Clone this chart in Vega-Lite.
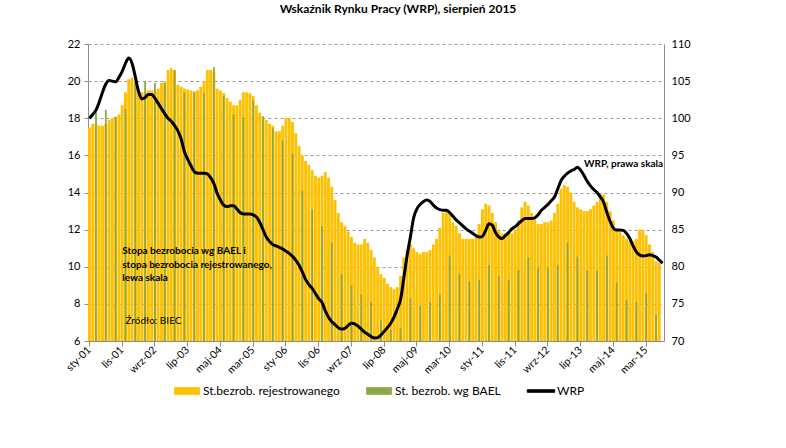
{
"$schema":"https://vega.github.io/schema/vega-lite/v6.json",
"width":576,"height":297,
"autosize":{"type":"none"},
"padding":{"left":88,"top":44,"right":122,"bottom":107},
"background":"white",
"title":{"text":"Wskaźnik Rynku Pracy (WRP), sierpień 2015","font":"Lato","fontSize":12,"fontWeight":"bold","color":"#000","anchor":"middle","dx":22,"offset":22},
"config":{"view":{"stroke":null},"font":"Lato","axis":{"labelFont":"Lato","labelColor":"#000"},"legend":{"labelFont":"Lato"},
 "axisLeft":{"labelOverlap":false}},
"data":{"values":[
{"d":"2001-01","reg":17.5,"wrp":100.0},{"d":"2001-02","reg":17.7,"wrp":100.5},{"d":"2001-03","reg":17.7,"bael":18.35,"wrp":101.1},{"d":"2001-04","reg":17.6,"wrp":102.2},{"d":"2001-05","reg":17.6,"wrp":103.5},{"d":"2001-06","reg":17.7,"bael":18.45,"wrp":104.6},{"d":"2001-07","reg":17.9,"wrp":105.1},{"d":"2001-08","reg":18.0,"wrp":105.0},{"d":"2001-09","reg":18.1,"bael":18.05,"wrp":104.9},{"d":"2001-10","reg":18.2,"wrp":105.5},{"d":"2001-11","reg":18.7,"wrp":106.3},{"d":"2001-12","reg":19.4,"bael":18.5,"wrp":107.4},
{"d":"2002-01","reg":20.1,"wrp":108.1},{"d":"2002-02","reg":20.2,"wrp":107.4},{"d":"2002-03","reg":19.9,"bael":20.3,"wrp":105.6},{"d":"2002-04","reg":19.5,"wrp":103.6},{"d":"2002-05","reg":19.4,"wrp":102.6},{"d":"2002-06","reg":19.4,"bael":20.0,"wrp":102.8},{"d":"2002-07","reg":19.5,"wrp":103.2},{"d":"2002-08","reg":19.5,"wrp":103.2},{"d":"2002-09","reg":19.5,"bael":19.9,"wrp":102.7},{"d":"2002-10","reg":19.6,"wrp":102.0},{"d":"2002-11","reg":19.9,"wrp":101.3},{"d":"2002-12","reg":20.0,"bael":19.9,"wrp":100.6},
{"d":"2003-01","reg":20.6,"wrp":100.0},{"d":"2003-02","reg":20.7,"wrp":99.6},{"d":"2003-03","reg":20.6,"bael":20.6,"wrp":99.0},{"d":"2003-04","reg":19.8,"wrp":98.3},{"d":"2003-05","reg":19.7,"wrp":97.2},{"d":"2003-06","reg":19.6,"bael":19.4,"wrp":95.5},{"d":"2003-07","reg":19.55,"wrp":94.5},{"d":"2003-08","reg":19.5,"wrp":93.6},{"d":"2003-09","reg":19.45,"bael":19.4,"wrp":92.8},{"d":"2003-10","reg":19.5,"wrp":92.6},{"d":"2003-11","reg":19.7,"wrp":92.6},{"d":"2003-12","reg":20.0,"bael":19.35,"wrp":92.6},
{"d":"2004-01","reg":20.6,"wrp":92.5},{"d":"2004-02","reg":20.6,"wrp":92.0},{"d":"2004-03","reg":20.5,"bael":20.75,"wrp":91.2},{"d":"2004-04","reg":19.6,"wrp":89.9},{"d":"2004-05","reg":19.5,"wrp":89.0},{"d":"2004-06","reg":19.35,"bael":19.2,"wrp":88.3},{"d":"2004-07","reg":19.1,"wrp":88.1},{"d":"2004-08","reg":18.9,"wrp":88.2},{"d":"2004-09","reg":18.7,"bael":18.2,"wrp":88.2},{"d":"2004-10","reg":18.7,"wrp":87.8},{"d":"2004-11","reg":19.0,"wrp":87.3},{"d":"2004-12","reg":19.4,"bael":18.05,"wrp":87.1},
{"d":"2005-01","reg":19.4,"wrp":87.1},{"d":"2005-02","reg":19.35,"wrp":87.1},{"d":"2005-03","reg":19.2,"bael":18.95,"wrp":87.0},{"d":"2005-04","reg":18.7,"wrp":86.7},{"d":"2005-05","reg":18.3,"wrp":86.0},{"d":"2005-06","reg":18.1,"bael":18.1,"wrp":85.0},{"d":"2005-07","reg":17.9,"wrp":84.0},{"d":"2005-08","reg":17.7,"wrp":83.4},{"d":"2005-09","reg":17.6,"bael":17.45,"wrp":83.0},{"d":"2005-10","reg":17.3,"wrp":82.8},{"d":"2005-11","reg":17.3,"wrp":82.6},{"d":"2005-12","reg":17.6,"bael":16.8,"wrp":82.4},
{"d":"2006-01","reg":18.0,"wrp":82.1},{"d":"2006-02","reg":18.0,"wrp":81.8},{"d":"2006-03","reg":17.8,"bael":16.1,"wrp":81.4},{"d":"2006-04","reg":17.2,"wrp":80.9},{"d":"2006-05","reg":16.5,"wrp":80.2},{"d":"2006-06","reg":16.0,"bael":14.1,"wrp":79.3},{"d":"2006-07","reg":15.7,"wrp":78.3},{"d":"2006-08","reg":15.5,"wrp":77.6},{"d":"2006-09","reg":15.2,"bael":13.1,"wrp":77.1},{"d":"2006-10","reg":14.9,"wrp":76.4},{"d":"2006-11","reg":14.8,"wrp":75.7},{"d":"2006-12","reg":14.9,"bael":12.2,"wrp":75.2},
{"d":"2007-01","reg":15.1,"wrp":74.1},{"d":"2007-02","reg":14.8,"wrp":73.2},{"d":"2007-03","reg":14.3,"bael":11.3,"wrp":72.6},{"d":"2007-04","reg":13.6,"wrp":72.2},{"d":"2007-05","reg":12.9,"wrp":71.8},{"d":"2007-06","reg":12.4,"bael":9.6,"wrp":71.6},{"d":"2007-07","reg":12.2,"wrp":71.7},{"d":"2007-08","reg":11.9,"wrp":72.1},{"d":"2007-09","reg":11.6,"bael":9.0,"wrp":72.4},{"d":"2007-10","reg":11.3,"wrp":72.3},{"d":"2007-11","reg":11.2,"wrp":72.0},{"d":"2007-12","reg":11.2,"bael":8.5,"wrp":71.6},
{"d":"2008-01","reg":11.5,"wrp":71.2},{"d":"2008-02","reg":11.3,"wrp":70.9},{"d":"2008-03","reg":10.9,"bael":8.1,"wrp":70.6},{"d":"2008-04","reg":10.5,"wrp":70.4},{"d":"2008-05","reg":10.0,"wrp":70.45},{"d":"2008-06","reg":9.6,"bael":7.1,"wrp":70.8},{"d":"2008-07","reg":9.4,"wrp":71.3},{"d":"2008-08","reg":9.1,"wrp":71.8},{"d":"2008-09","reg":8.9,"bael":6.6,"wrp":72.4},{"d":"2008-10","reg":8.8,"wrp":73.2},{"d":"2008-11","reg":8.9,"wrp":74.3},{"d":"2008-12","reg":9.5,"bael":6.7,"wrp":75.6},
{"d":"2009-01","reg":10.5,"wrp":78.5},{"d":"2009-02","reg":10.9,"wrp":81.5},{"d":"2009-03","reg":11.2,"bael":8.3,"wrp":84.0},{"d":"2009-04","reg":11.0,"wrp":86.6},{"d":"2009-05","reg":10.8,"wrp":87.8},{"d":"2009-06","reg":10.7,"bael":7.9,"wrp":88.4},{"d":"2009-07","reg":10.8,"wrp":88.8},{"d":"2009-08","reg":10.8,"wrp":89.0},{"d":"2009-09","reg":10.9,"bael":8.1,"wrp":88.8},{"d":"2009-10","reg":11.2,"wrp":88.3},{"d":"2009-11","reg":11.5,"wrp":87.9},{"d":"2009-12","reg":12.1,"bael":8.5,"wrp":87.7},
{"d":"2010-01","reg":12.9,"wrp":87.6},{"d":"2010-02","reg":13.0,"wrp":87.6},{"d":"2010-03","reg":12.9,"bael":10.6,"wrp":87.3},{"d":"2010-04","reg":12.4,"wrp":86.8},{"d":"2010-05","reg":12.2,"wrp":86.3},{"d":"2010-06","reg":11.8,"bael":9.6,"wrp":85.9},{"d":"2010-07","reg":11.5,"wrp":85.5},{"d":"2010-08","reg":11.5,"wrp":85.1},{"d":"2010-09","reg":11.5,"bael":9.2,"wrp":84.8},{"d":"2010-10","reg":11.5,"wrp":84.5},{"d":"2010-11","reg":11.6,"wrp":84.2},{"d":"2010-12","reg":12.3,"bael":9.3,"wrp":84.0},
{"d":"2011-01","reg":13.1,"wrp":84.1},{"d":"2011-02","reg":13.4,"wrp":84.9},{"d":"2011-03","reg":13.3,"bael":10.1,"wrp":85.8},{"d":"2011-04","reg":12.9,"wrp":85.6},{"d":"2011-05","reg":12.4,"wrp":84.6},{"d":"2011-06","reg":12.0,"bael":9.5,"wrp":84.0},{"d":"2011-07","reg":11.8,"wrp":83.8},{"d":"2011-08","reg":11.8,"wrp":84.2},{"d":"2011-09","reg":11.8,"bael":9.3,"wrp":84.6},{"d":"2011-10","reg":11.8,"wrp":85.1},{"d":"2011-11","reg":12.0,"wrp":85.4},{"d":"2011-12","reg":12.5,"bael":9.8,"wrp":85.8},
{"d":"2012-01","reg":13.2,"wrp":86.2},{"d":"2012-02","reg":13.5,"wrp":86.5},{"d":"2012-03","reg":13.3,"bael":10.5,"wrp":86.5},{"d":"2012-04","reg":12.9,"wrp":86.5},{"d":"2012-05","reg":12.6,"wrp":86.6},{"d":"2012-06","reg":12.3,"bael":9.95,"wrp":87.0},{"d":"2012-07","reg":12.3,"wrp":87.6},{"d":"2012-08","reg":12.4,"wrp":88.0},{"d":"2012-09","reg":12.4,"bael":9.95,"wrp":88.4},{"d":"2012-10","reg":12.5,"wrp":88.9},{"d":"2012-11","reg":12.9,"wrp":89.4},{"d":"2012-12","reg":13.4,"bael":10.1,"wrp":90.5},
{"d":"2013-01","reg":14.2,"wrp":91.6},{"d":"2013-02","reg":14.4,"wrp":92.2},{"d":"2013-03","reg":14.3,"bael":11.3,"wrp":92.6},{"d":"2013-04","reg":14.0,"wrp":92.9},{"d":"2013-05","reg":13.5,"wrp":93.1},{"d":"2013-06","reg":13.2,"bael":10.55,"wrp":93.4},{"d":"2013-07","reg":13.1,"wrp":93.0},{"d":"2013-08","reg":13.0,"wrp":92.3},{"d":"2013-09","reg":13.0,"bael":9.8,"wrp":91.5},{"d":"2013-10","reg":13.1,"wrp":90.9},{"d":"2013-11","reg":13.3,"wrp":90.4},{"d":"2013-12","reg":13.5,"bael":9.8,"wrp":90.0},
{"d":"2014-01","reg":13.9,"wrp":89.4},{"d":"2014-02","reg":13.9,"wrp":88.7},{"d":"2014-03","reg":13.5,"bael":10.6,"wrp":87.3},{"d":"2014-04","reg":13.0,"wrp":86.1},{"d":"2014-05","reg":12.5,"wrp":85.2},{"d":"2014-06","reg":12.0,"bael":9.15,"wrp":84.95},{"d":"2014-07","reg":11.9,"wrp":84.95},{"d":"2014-08","reg":11.7,"wrp":84.9},{"d":"2014-09","reg":11.5,"bael":8.2,"wrp":84.5},{"d":"2014-10","reg":11.4,"wrp":83.8},{"d":"2014-11","reg":11.4,"wrp":82.8},{"d":"2014-12","reg":11.5,"bael":8.1,"wrp":82.0},
{"d":"2015-01","reg":12.0,"wrp":81.6},{"d":"2015-02","reg":12.0,"wrp":81.45},{"d":"2015-03","reg":11.7,"bael":8.6,"wrp":81.5},{"d":"2015-04","reg":11.2,"wrp":81.6},{"d":"2015-05","reg":10.8,"wrp":81.5},{"d":"2015-06","reg":10.3,"bael":7.4,"wrp":81.3},{"d":"2015-07","reg":10.2,"wrp":80.9},{"d":"2015-08","wrp":80.5}
]},
"encoding":{"x":{"field":"d","type":"ordinal","scale":{"paddingInner":0.12,"paddingOuter":0},
 "axis":{"title":null,"values":["2001-01","2001-11","2002-09","2003-07","2004-05","2005-03","2006-01","2006-11","2007-09","2008-07","2009-05","2010-03","2011-01","2011-11","2012-09","2013-07","2014-05","2015-03"],
 "labelExpr":"['sty','lut','mar','kwi','maj','cze','lip','sie','wrz','paź','lis','gru'][toNumber(substring(datum.value,5,7))-1] + '-' + substring(datum.value,2,4)",
 "labelAngle":-45,"labelAlign":"right","labelBaseline":"middle","labelFontSize":10.5,"labelPadding":2,"tickSize":5,"tickColor":"#8c8c8c","domainColor":"#8c8c8c","grid":false}}},
"layer":[
 {"layer":[
  {"mark":{"type":"bar"},
   "encoding":{
    "y":{"field":"reg","type":"quantitative","scale":{"domain":[6,22],"zero":false,"nice":false},
     "axis":{"title":null,"values":[6,8,10,12,14,16,18,20,22],"labelOverlap":false,"grid":true,"gridDash":[3,3],"gridColor":"#9a9a9a","domainColor":"#8c8c8c","tickColor":"#8c8c8c","tickSize":4,"labelFontSize":11,"labelPadding":4}},
    "y2":{"datum":6},
    "color":{"datum":"St.bezrob. rejestrowanego","type":"nominal",
     "scale":{"domain":["St.bezrob. rejestrowanego","St. bezrob. wg BAEL","WRP"],"range":["#FFC000","#8FA843","#000000"]},
     "legend":{"orient":"none","legendX":92,"legendY":340,"direction":"horizontal","title":null,"symbolSize":156,"labelFontSize":12,"labelOffset":9,"columnPadding":24,"symbolType":"M-2,-0.55H2V0.55H-2Z",
      "encode":{"symbols":{"update":{
       "shape":{"signal":"datum.value === 'WRP' ? 'M-2.2,-0.22H2.2V0.22H-2.2Z' : 'M-2,-0.55H2V0.55H-2Z'"},
       "fill":{"signal":"datum.value === 'WRP' ? '#000000' : (datum.value === 'St. bezrob. wg BAEL' ? '#9BBB59' : '#FFC000')"},
       "stroke":{"signal":"datum.value === 'St. bezrob. wg BAEL' ? '#71893F' : 'transparent'"},
       "strokeWidth":{"value":0.8},"opacity":{"value":1},"fillOpacity":{"value":1}}}}}}}},
  {"mark":{"type":"bar","width":{"band":0.62}},
   "encoding":{
    "y":{"field":"bael","type":"quantitative","axis":{"title":null,"values":[6,8,10,12,14,16,18,20,22],"labelOverlap":false,"grid":true,"gridDash":[3,3],"gridColor":"#9a9a9a","domainColor":"#8c8c8c","tickColor":"#8c8c8c","tickSize":4,"labelFontSize":11,"labelPadding":4}},
    "y2":{"datum":6},
    "color":{"datum":"St. bezrob. wg BAEL","type":"nominal"}}},
  {"data":{"values":[
    {"d":"2001-11","v":10.87,"t":"Stopa bezrobocia wg BAEL i"},
    {"d":"2001-11","v":10.12,"t":"\u00a0stopa bezrobocia rejestrowanego,"},
    {"d":"2001-11","v":9.38,"t":"lewa skala"},
    {"d":"2013-08","v":15.54,"t":"WRP, prawa skala"}]},
   "mark":{"type":"text","align":"left","baseline":"middle","font":"Lato","fontSize":10,"fontWeight":"bold","color":"#000"},
   "encoding":{"y":{"field":"v","type":"quantitative","axis":{"title":null,"values":[6,8,10,12,14,16,18,20,22],"labelOverlap":false,"grid":true,"gridDash":[3,3],"gridColor":"#9a9a9a","domainColor":"#8c8c8c","tickColor":"#8c8c8c","tickSize":4,"labelFontSize":11,"labelPadding":4}},"text":{"field":"t"}}},
  {"data":{"values":[{"d":"2001-12","v":7.09,"t":"Źródło: BIEC"}]},
   "mark":{"type":"text","align":"left","baseline":"middle","font":"Lato","fontSize":10,"color":"#000"},
   "encoding":{"y":{"field":"v","type":"quantitative","axis":{"title":null,"values":[6,8,10,12,14,16,18,20,22],"labelOverlap":false,"grid":true,"gridDash":[3,3],"gridColor":"#9a9a9a","domainColor":"#8c8c8c","tickColor":"#8c8c8c","tickSize":4,"labelFontSize":11,"labelPadding":4}},"text":{"field":"t"}}}
 ]},
 {"mark":{"type":"line","strokeWidth":3,"interpolate":"monotone"},
  "encoding":{
   "y":{"field":"wrp","type":"quantitative","scale":{"domain":[70,110],"zero":false,"nice":false},
    "axis":{"orient":"right","title":null,"values":[70,75,80,85,90,95,100,105,110],"labelOverlap":false,"grid":false,"ticks":false,"domainColor":"#8c8c8c","labelFontSize":11,"labelPadding":7}},
   "color":{"datum":"WRP","type":"nominal"}}}
],
"resolve":{"scale":{"y":"independent"}}
}
